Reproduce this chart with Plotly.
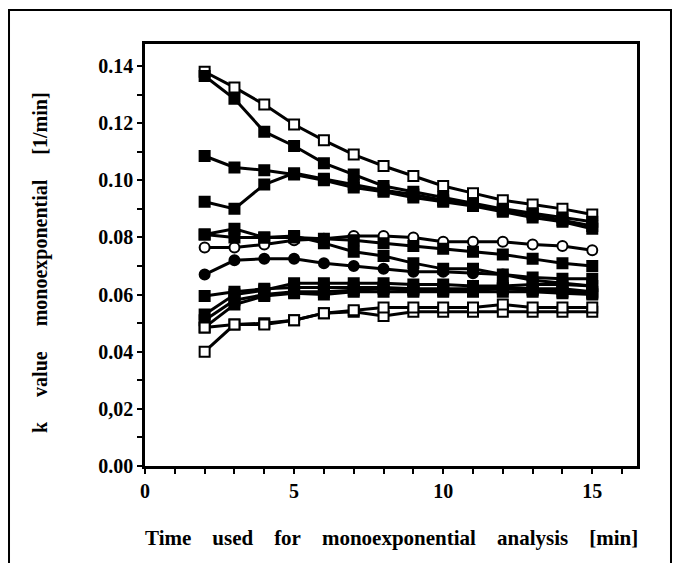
import plotly.graph_objects as go

x_times = [2, 3, 4, 5, 6, 7, 8, 9, 10, 11, 12, 13, 14, 15]

# Top group
s_open_sq_top = [0.138, 0.1325, 0.1265, 0.1195, 0.114, 0.109, 0.105, 0.1015, 0.098, 0.0955, 0.093, 0.0915, 0.090, 0.088]
s_fill_sq_top = [0.1365, 0.1285, 0.117, 0.112, 0.106, 0.102, 0.098, 0.096, 0.094, 0.092, 0.090, 0.0885, 0.087, 0.0855]
s_fill_sq_109 = [0.1085, 0.1045, 0.1035, 0.102, 0.100, 0.0975, 0.096, 0.094, 0.0925, 0.091, 0.089, 0.087, 0.0855, 0.083]
s_fill_sq_092 = [0.0925, 0.090, 0.0985, 0.1025, 0.1005, 0.0985, 0.0965, 0.095, 0.093, 0.0915, 0.0895, 0.088, 0.086, 0.084]

# Middle group
s_open_circ_mid = [0.0765, 0.0765, 0.0775, 0.079, 0.0795, 0.0805, 0.0805, 0.080, 0.0785, 0.0785, 0.0785, 0.0775, 0.077, 0.0755]
s_fill_sq_mid_a = [0.081, 0.080, 0.080, 0.080, 0.0795, 0.079, 0.078, 0.077, 0.076, 0.075, 0.074, 0.0725, 0.071, 0.070]
s_fill_sq_mid_b = [0.081, 0.083, 0.080, 0.0805, 0.078, 0.075, 0.0735, 0.071, 0.069, 0.069, 0.067, 0.066, 0.0655, 0.0655]
s_fill_circ_mid = [0.067, 0.072, 0.0725, 0.0725, 0.071, 0.070, 0.069, 0.068, 0.068, 0.0675, 0.067, 0.065, 0.064, 0.063]

# Bottom group
s_fill_sq_b1 = [0.0595, 0.061, 0.062, 0.0625, 0.0625, 0.0625, 0.0625, 0.062, 0.062, 0.062, 0.0625, 0.062, 0.062, 0.061]
s_fill_sq_b2 = [0.053, 0.060, 0.0615, 0.064, 0.064, 0.064, 0.064, 0.0635, 0.0635, 0.063, 0.063, 0.0635, 0.0635, 0.063]
s_fill_sq_b3 = [0.051, 0.058, 0.060, 0.061, 0.061, 0.0615, 0.062, 0.0615, 0.0615, 0.0615, 0.062, 0.0615, 0.061, 0.0605]
s_fill_sq_b4 = [0.0485, 0.0565, 0.0595, 0.0605, 0.060, 0.061, 0.061, 0.061, 0.061, 0.061, 0.061, 0.061, 0.0605, 0.060]
s_open_sq_b5 = [0.040, 0.0495, 0.050, 0.051, 0.0535, 0.054, 0.0525, 0.054, 0.054, 0.054, 0.054, 0.054, 0.054, 0.054]
s_open_sq_b6 = [0.0485, 0.0495, 0.0495, 0.051, 0.0535, 0.0545, 0.0555, 0.0555, 0.0555, 0.0555, 0.0565, 0.0555, 0.0555, 0.0555]

series = [
    (s_open_sq_top, "square", "white"),
    (s_fill_sq_top, "square", "black"),
    (s_fill_sq_109, "square", "black"),
    (s_fill_sq_092, "square", "black"),
    (s_open_circ_mid, "circle", "white"),
    (s_fill_sq_mid_a, "square", "black"),
    (s_fill_sq_mid_b, "square", "black"),
    (s_fill_circ_mid, "circle", "black"),
    (s_fill_sq_b1, "square", "black"),
    (s_fill_sq_b2, "square", "black"),
    (s_fill_sq_b3, "square", "black"),
    (s_fill_sq_b4, "square", "black"),
    (s_open_sq_b5, "square", "white"),
    (s_open_sq_b6, "square", "white"),
]

y_tickvals = [0.00, 0.02, 0.04, 0.06, 0.08, 0.10, 0.12, 0.14]
y_ticktext = ["0.00", "0,02", "0.04", "0.06", "0.08", "0.10", "0.12", "0.14"]
x_tickvals = [0, 5, 10, 15]
x_ticktext = ["0", "5", "10", "15"]

FONT = "Liberation Serif"
NB = "\u00a0"

fig = go.Figure()
for vals, sym, fill in series:
    fig.add_trace(go.Scatter(
        x=x_times, y=vals, mode="lines+markers",
        line=dict(color="black", width=3),
        marker=dict(symbol=sym, size=10, color=fill,
                    line=dict(color="black", width=2)),
        showlegend=False, hoverinfo="skip",
    ))

axis_common = dict(
    showgrid=False, zeroline=False, showline=True, linecolor="black",
    linewidth=2.5, mirror=True, ticks="outside", ticklen=5, tickwidth=2,
    tickcolor="black",
    tickfont=dict(family=FONT, size=20, color="black", weight="bold"),
)

xtitle = (NB * 4).join(["Time", "used", "for", "monoexponential", "analysis", "[min]"])
ytitle = (NB * 5).join(["k", "value", "monoexponential", "[1/min]"])

fig.update_layout(
    width=680, height=563,
    margin=dict(l=145, r=43, t=44, b=97),
    paper_bgcolor="white", plot_bgcolor="white",
    xaxis=dict(range=[0, 16.5], tickvals=x_tickvals, ticktext=x_ticktext,
               minor=dict(dtick=1, tick0=0, ticks="outside", ticklen=5,
                          tickwidth=2, tickcolor="black"),
               **axis_common),
    yaxis=dict(range=[0, 0.1477], tickvals=y_tickvals, ticktext=y_ticktext,
               minor=dict(dtick=0.01, tick0=0, ticks="outside", ticklen=5,
                          tickwidth=2, tickcolor="black"),
               **axis_common),
    shapes=[dict(type="rect", xref="paper", yref="paper",
                 x0=-0.2764, x1=1.0691, y0=-0.25, y1=1.0806,
                 line=dict(color="black", width=2), layer="below")],
    annotations=[
        dict(text=xtitle,
             xref="paper", yref="paper", x=(391 - 145) / 492, y=(466 - 538) / 422,
             showarrow=False, xanchor="center", yanchor="middle",
             font=dict(family=FONT, size=21, color="black", weight="bold")),
        dict(text=ytitle,
             xref="paper", yref="paper", x=(40 - 145) / 492, y=(466 - 263) / 422,
             showarrow=False, xanchor="center", yanchor="middle", textangle=-90,
             font=dict(family=FONT, size=20, color="black", weight="bold")),
    ],
)

fig.write_html("out.html")
